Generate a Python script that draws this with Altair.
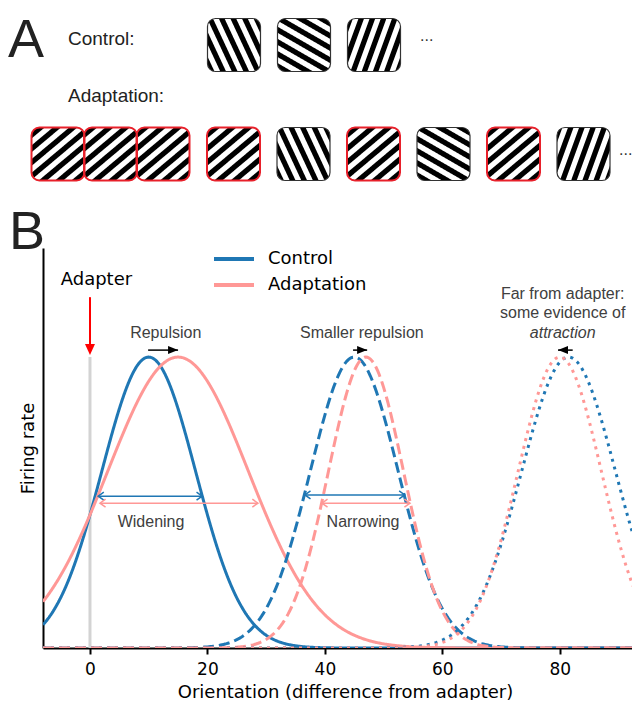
import numpy as np
import pandas as pd
import altair as alt

# ---------------- colours ----------------
BLUE = "#1f77b4"
PINK = "#ff9896"
RED = "#e8202a"
NOTE = "#404040"

# ---------------- panel B: tuning curves (Gaussian parameters) ----------------
curve_id = ["c_near", "a_near", "c_mid", "a_mid", "c_far", "a_far"]
curve_cond = ["Control", "Adaptation", "Control", "Adaptation", "Control", "Adaptation"]
curve_style = ["near", "near", "mid", "mid", "far", "far"]
curve_center = [10.0, 15.0, 45.0, 47.0, 81.5, 80.0]
curve_sigma = [8.0, 12.0, 7.5, 6.4, 8.0, 7.1]
curve_peak = [1.0, 1.0, 1.0, 1.0, 1.0, 1.0]
orientation_grid = [round(float(v), 2) for v in np.arange(-8.0, 96.01, 0.25)]

x_domain = [-8.0, 92.3]
y_domain = [0.0, 1.375]
x_ticks = [0, 20, 40, 60, 80]

# adapter marker
adapter_pos = [0.0]
adapter_line_top = [1.0]
adapter_arrow_from = [1.206]
adapter_arrow_tip = [1.007]
adapter_label = ["Adapter"]
adapter_label_x = [1.1]
adapter_label_y = [1.265]

# tuning-width arrows
width_cond = ["Control", "Adaptation", "Control", "Adaptation"]
width_x1 = [1.4, 1.7, 36.6, 39.5]
width_x2 = [19.1, 28.6, 53.6, 54.5]
width_y = [0.522, 0.498, 0.526, 0.498]

# peak-shift arrows
shift_x1 = [9.9, 44.8, 82.2]
shift_x2 = [15.0, 47.2, 79.7]
shift_y = [1.024, 1.024, 1.024]

# annotations
note_text = ["Repulsion", "Smaller repulsion", "Far from adapter:", "some evidence of",
             "Widening", "Narrowing"]
note_x = [12.9, 46.3, 80.5, 80.5, 10.4, 46.5]
note_y = [1.0825, 1.0825, 1.2165, 1.151, 0.433, 0.433]
italic_text = ["attraction"]
italic_x = [80.5]
italic_y = [1.0825]

# ---------------- panel A: grating sequences (page pixel layout) ----------------
ctrl_centers = [234.0, 304.0, 374.0]
ctrl_orient = [-65, -30, 70]
adapt_centers = [58.0, 110.5, 163.0, 233.5, 303.5, 373.5, 443.5, 513.5, 583.5]
adapt_orient = [40, 40, 40, 40, -65, 40, -30, 40, 70]
adapt_is_adapter = [True, True, True, True, False, True, False, True, False]
row_center_y = [45.0, 154.0]
grating_side = 53.0
grating_period = 10.5
grating_corner = 8.0

panel_letters = ["A", "B"]
panel_letter_x = [8.0, 9.0]
panel_letter_y = [57.0, 249.0]
row_labels = ["Control:", "Adaptation:"]
row_label_x = [68.0, 68.0]
row_label_y = [45.0, 102.0]
ellipsis_x = [420.0, 619.0]
ellipsis_y = [41.0, 155.0]

# ---------------- scales ----------------
PX = alt.Scale(domain=[43, 632], range=[0, 589], nice=False, zero=False)
PY = alt.Scale(domain=[248, 648], range=[0, 400], nice=False, zero=False)
DX = alt.Scale(domain=x_domain, nice=False, zero=False)
DY = alt.Scale(domain=y_domain, nice=False, zero=False)


def pxy(xf, yf):
    return dict(x=alt.X(f"{xf}:Q", scale=PX, axis=None), y=alt.Y(f"{yf}:Q", scale=PY, axis=None))


def dxy(xf, yf):
    return dict(x=alt.X(f"{xf}:Q", scale=DX, axis=None), y=alt.Y(f"{yf}:Q", scale=DY, axis=None))


# ---------------- tables ----------------
rows = []
for cid, cond, sty, mu, sg, pk in zip(curve_id, curve_cond, curve_style, curve_center, curve_sigma, curve_peak):
    for xv in orientation_grid:
        rows.append({"curve": cid, "cond": cond, "style": sty, "orientation": xv,
                     "rate": round(pk * float(np.exp(-(xv - mu) ** 2 / (2 * sg * sg))), 5)})
curve_df = pd.DataFrame(rows)

col = {"Control": BLUE, "Adaptation": PINK}
width_df = pd.DataFrame({"x1": width_x1, "x2": width_x2, "y": width_y,
                         "col": [col[c] for c in width_cond]})
width_heads = pd.DataFrame({
    "x": width_x1 + width_x2, "y": width_y + width_y,
    "ang": [180] * len(width_x1) + [0] * len(width_x2),
    "col": [col[c] for c in width_cond] * 2})
shift_df = pd.DataFrame({"x1": shift_x1, "x2": shift_x2, "y": shift_y,
                         "ang": [0 if b > a else 180 for a, b in zip(shift_x1, shift_x2)]})
adapter_df = pd.DataFrame({"x": adapter_pos, "y0": [0.0], "y1": adapter_line_top,
                           "a0": adapter_arrow_from, "tip": adapter_arrow_tip,
                           "a1": [t + 0.03 for t in adapter_arrow_tip]})
adapter_lab_df = pd.DataFrame({"t": adapter_label, "x": adapter_label_x, "y": adapter_label_y})
note_df = pd.DataFrame({"t": note_text, "x": note_x, "y": note_y})
italic_df = pd.DataFrame({"t": italic_text, "x": italic_x, "y": italic_y})


def grating_stripes(gid, cx, cy, orient_deg):
    h = grating_side / 2.0
    r = grating_corner
    t = np.deg2rad(orient_deg)
    nx, ny = np.sin(t), np.cos(t)
    xs = np.arange(cx - h, cx + h + 1e-6, 0.5)
    dxc = np.clip(np.abs(xs - cx) - (h - r), 0, r)
    inset = r - np.sqrt(r * r - dxc * dxc)
    top = cy - h + inset
    bot = cy + h - inset
    out = []
    n = int(np.ceil(grating_side / grating_period)) + 1
    for k in range(-n, n + 1):
        c1 = k * grating_period - grating_period / 4.0
        c2 = k * grating_period + grating_period / 4.0
        lo = cy + (c1 - (xs - cx) * nx) / ny
        hi = cy + (c2 - (xs - cx) * nx) / ny
        y1 = np.maximum(top, lo)
        y2 = np.minimum(bot, hi)
        ok = y2 > y1 + 0.01
        for xv, a, b in zip(xs[ok], y1[ok], y2[ok]):
            out.append({"band": f"{gid}_{k}", "sx": round(float(xv), 2),
                        "sy1": round(float(a), 2), "sy2": round(float(b), 2)})
    return out


gratings = []
for i, (cx, ori) in enumerate(zip(ctrl_centers, ctrl_orient)):
    gratings.append({"gid": f"c{i}", "cx": cx, "cy": row_center_y[0], "ori": ori,
                     "stroke": "#333333", "sw": 1.2})
for i, (cx, ori, isad) in enumerate(zip(adapt_centers, adapt_orient, adapt_is_adapter)):
    gratings.append({"gid": f"a{i}", "cx": cx, "cy": row_center_y[1], "ori": ori,
                     "stroke": RED if isad else "#333333", "sw": 2.0 if isad else 1.2})

stripe_rows = []
for g in gratings:
    stripe_rows += grating_stripes(g["gid"], g["cx"], g["cy"], g["ori"])
stripe_df = pd.DataFrame(stripe_rows)
half = grating_side / 2.0
frame_df = pd.DataFrame([{"x1": g["cx"] - half, "x2": g["cx"] + half, "y1": g["cy"] - half,
                          "y2": g["cy"] + half, "stroke": g["stroke"], "sw": g["sw"]} for g in gratings])
letters_df = pd.DataFrame({"t": panel_letters, "x": panel_letter_x, "y": panel_letter_y})
rowlab_df = pd.DataFrame({"t": row_labels, "x": row_label_x, "y": row_label_y})
ell_df = pd.DataFrame({"t": ["..."] * 2, "x": ellipsis_x, "y": ellipsis_y})

# ---------------- layers ----------------
adapter_line = alt.Chart(adapter_df).mark_rule(color="#d3d3d3", strokeWidth=3).encode(
    **dxy("x", "y0"), y2="y1:Q")

curves = alt.Chart(curve_df).mark_line(strokeWidth=3, clip=True, strokeCap="butt").encode(
    x=alt.X("orientation:Q", scale=DX, title="Orientation (difference from adapter)",
            axis=alt.Axis(values=x_ticks, tickSize=6, tickWidth=2, tickColor="black",
                          domainColor="black", domainWidth=2, labelFont="DejaVu Sans",
                          labelFontSize=17, labelColor="black", labelPadding=7,
                          titleFont="DejaVu Sans", titleFontSize=18, titleFontWeight="normal",
                          titleColor="black", titleX=302, titleY=49, titleAlign="center",
                          titleBaseline="alphabetic", grid=False)),
    y=alt.Y("rate:Q", scale=DY, title="Firing rate",
            axis=alt.Axis(ticks=False, labels=False, domainColor="black", domainWidth=2,
                          titleFont="DejaVu Sans", titleFontSize=18, titleFontWeight="normal",
                          titleColor="black", titleX=-15, titleY=200, titleAngle=270,
                          titleAlign="center", titleBaseline="middle", grid=False)),
    color=alt.Color("cond:N", scale=alt.Scale(domain=["Control", "Adaptation"], range=[BLUE, PINK]),
                    legend=alt.Legend(title=None, orient="none", legendX=169, legendY=2,
                                      symbolType="stroke", symbolSize=1600, symbolStrokeWidth=4,
                                      labelFont="DejaVu Sans", labelFontSize=18, labelColor="black",
                                      labelOffset=12, clipHeight=18, rowPadding=8, padding=0)),
    strokeDash=alt.StrokeDash("style:N", scale=alt.Scale(domain=["near", "mid", "far"],
                                                          range=[[1, 0], [11, 5], [3, 5]]),
                              legend=None),
    detail="curve:N",
)

width_rules = alt.Chart(width_df).mark_rule(strokeWidth=1.5).encode(
    **dxy("x1", "y"), x2="x2:Q", color=alt.Color("col:N", scale=None))
width_tips = alt.Chart(width_heads).mark_point(
    shape="M-1.4,-1L0,0L-1.4,1", filled=False, size=64, strokeWidth=1.5, opacity=1).encode(
    **dxy("x", "y"), angle=alt.Angle("ang:Q", scale=None), color=alt.Color("col:N", scale=None))

shift_rules = alt.Chart(shift_df).mark_rule(strokeWidth=1.5, color="black").encode(
    **dxy("x1", "y"), x2="x2:Q")
shift_tips = alt.Chart(shift_df).mark_point(
    shape="M0,0L-2.5,-1L-2.5,1Z", filled=True, size=64, color="black", opacity=1).encode(
    **dxy("x2", "y"), angle=alt.Angle("ang:Q", scale=None))

red_rule = alt.Chart(adapter_df).mark_rule(color="red", strokeWidth=2).encode(
    **dxy("x", "a0"), y2="a1:Q")
red_tip = alt.Chart(adapter_df).mark_point(
    shape="M0,0L-2.2,-1L-2.2,1Z", filled=True, size=100, color="red", opacity=1, angle=90).encode(
    **dxy("x", "tip"))
adapter_text = alt.Chart(adapter_lab_df).mark_text(
    font="DejaVu Sans", fontSize=18, color="black", baseline="middle", align="center").encode(
    **dxy("x", "y"), text="t:N")

notes = alt.Chart(note_df).mark_text(
    font="Liberation Sans", fontSize=16, color=NOTE, baseline="middle", align="center").encode(
    **dxy("x", "y"), text="t:N")
notes_it = alt.Chart(italic_df).mark_text(
    font="Liberation Sans", fontSize=16, fontStyle="italic", color=NOTE, baseline="middle",
    align="center").encode(**dxy("x", "y"), text="t:N")

stripes = alt.Chart(stripe_df).mark_area(color="black", interpolate="linear").encode(
    **pxy("sx", "sy1"), y2="sy2:Q", detail="band:N")
frames = alt.Chart(frame_df).mark_rect(cornerRadius=8, fillOpacity=0).encode(
    **pxy("x1", "y1"), x2="x2:Q", y2="y2:Q",
    stroke=alt.Stroke("stroke:N", scale=None), strokeWidth=alt.StrokeWidth("sw:Q", scale=None))
letters = alt.Chart(letters_df).mark_text(
    font="Liberation Sans", fontSize=54, color="#222222", align="left", baseline="alphabetic").encode(
    **pxy("x", "y"), text="t:N")
rowlabs = alt.Chart(rowlab_df).mark_text(
    font="Liberation Sans", fontSize=19, color="#222222", align="left", baseline="alphabetic").encode(
    **pxy("x", "y"), text="t:N")
ells = alt.Chart(ell_df).mark_text(
    font="Liberation Sans", fontSize=16, color="#333333", align="left", baseline="alphabetic").encode(
    **pxy("x", "y"), text="t:N")

chart = alt.layer(
    adapter_line, curves, width_rules, width_tips, shift_rules, shift_tips,
    red_rule, red_tip, adapter_text, notes, notes_it,
    stripes, frames, letters, rowlabs, ells,
).resolve_scale(x="independent", y="independent").properties(
    width=589, height=400,
    autosize=alt.AutoSizeParams(type="none"),
    padding={"left": 35, "top": 240, "right": 0, "bottom": 52},
).configure_view(stroke=None)

chart.save("out.html", embed_options={"renderer": "svg", "actions": False})
